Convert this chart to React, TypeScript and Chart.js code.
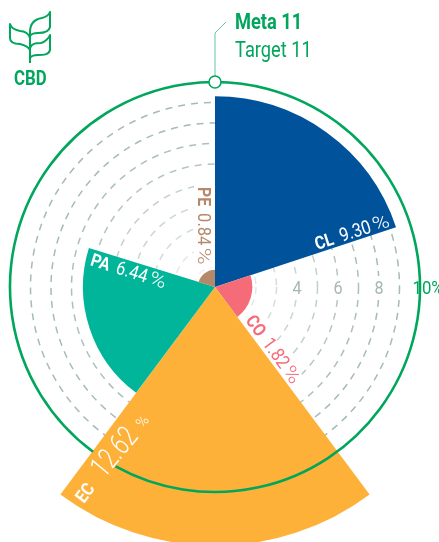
import React, { useEffect, useRef } from "react";
import { Chart, registerables } from "chart.js";

Chart.register(...registerables);

const categories = ["CL", "CO", "EC", "PA", "PE"];
const values = [9.3, 1.82, 12.62, 6.44, 0.84];
const colors = ["#00529B", "#F56C78", "#FDB139", "#00B59A", "#B5886A"];
const sectorAngles = [71.7, 71.6, 73.4, 70.5, 72.8];
const ringTicks = [4, 6, 8];
const targetValue = 10;
const titleLines = ["Meta 11", "Target 11"];
const logoText = "CBD";

const GREEN = "#00A65C";
const FONT = "Roboto, sans-serif";

function pct(v: number) {
  return v.toFixed(2);
}

const ringColors: Record<number, string> = {
  1: "#EDF2F1", 2: "#E0E8E7", 3: "#D3DEDC", 4: "#C8D6D4", 5: "#C0D0CD",
  6: "#B4C6C3", 7: "#ABC0BD", 8: "#A5BBB8", 9: "#A5BBB8", 10: "rgba(0,0,0,0)",
};

type Part = { text: string; font: string; gap?: number; sx?: number };

function drawParts(ctx: CanvasRenderingContext2D, x: number, y: number, angle: number, parts: Part[], color: string) {
  ctx.save();
  ctx.translate(x, y);
  ctx.rotate(angle);
  ctx.fillStyle = color;
  ctx.textBaseline = "alphabetic";
  ctx.textAlign = "left";
  let cx = 0;
  for (const p of parts) {
    const sx = p.sx ?? 0.82;
    ctx.font = p.font;
    ctx.save();
    ctx.translate(cx, 0);
    ctx.scale(sx, 1);
    ctx.fillText(p.text, 0, 0);
    ctx.restore();
    cx += ctx.measureText(p.text).width * sx + (p.gap ?? 0);
  }
  ctx.restore();
}

const labelParts = (i: number): Part[] => [
  { text: categories[i], font: `bold 18px ${FONT}`, gap: 7, sx: 0.88 },
  { text: pct(values[i]), font: `19px ${FONT}`, gap: 2.5, sx: 0.87 },
  { text: "%", font: `300 19px ${FONT}`, sx: 1.2 },
];

const underlay = {
  id: "underlay",
  beforeDatasetsDraw(chart: any) {
    const { ctx } = chart;
    const r = chart.scales.r;
    ctx.save();
    ctx.fillStyle = "#fff";
    ringTicks.forEach((t) => {
      const x = r.xCenter + r.getDistanceFromCenterForValue(t);
      ctx.fillRect(x - 7, r.yCenter - 11, 14, 22);
    });
    // clear the rings behind the PE and CO labels
    ctx.fillRect(r.xCenter - 21, 183, 21, 84);
    ctx.translate(r.xCenter, r.yCenter);
    ctx.rotate((54 * Math.PI) / 180);
    ctx.fillRect(36, -19, 92, 23);
    ctx.restore();
  },
};

const overlay = {
  id: "overlay",
  afterDatasetsDraw(chart: any) {
    const { ctx } = chart;
    const r = chart.scales.r;
    const cx = r.xCenter;
    const cy = r.yCenter;
    const R = r.getDistanceFromCenterForValue(targetValue);
    const rad = (d: number) => (d * Math.PI) / 180;

    // target ring with gap behind the EC label
    ctx.save();
    ctx.strokeStyle = GREEN;
    ctx.lineWidth = 2.6;
    ctx.beginPath();
    ctx.arc(cx, cy, R, rad(126.5), rad(360 + 119));
    ctx.stroke();
    // leader
    ctx.lineWidth = 0.8;
    ctx.strokeStyle = "#3DB885";
    ctx.beginPath();
    ctx.moveTo(cx, cy - R);
    ctx.lineTo(cx, 33);
    ctx.lineTo(226, 22);
    ctx.stroke();
    // marker
    ctx.fillStyle = "#fff";
    ctx.strokeStyle = GREEN;
    ctx.lineWidth = 1.6;
    ctx.beginPath();
    ctx.arc(cx, cy - R, 6, 0, Math.PI * 2);
    ctx.fill();
    ctx.stroke();
    ctx.restore();

    // title and logo caption
    drawParts(ctx, 235, 29, 0, [{ text: titleLines[0], font: `bold 22px ${FONT}`, sx: 0.83 }], GREEN);
    drawParts(ctx, 235, 57, 0, [{ text: titleLines[1], font: `22px ${FONT}`, sx: 0.83 }], GREEN);
    drawParts(ctx, 14, 85, 0, [{ text: logoText, font: `bold 21px ${FONT}`, sx: 0.8 }], GREEN);

    // logo
    ctx.save();
    ctx.strokeStyle = GREEN;
    ctx.lineWidth = 2;
    ctx.lineJoin = "round";
    ctx.stroke(new Path2D("M30 63 L30 32 C30 22 36 19 42 18 C46 17 49 15 50 12 L50 27 C49 32 44 33 38 33 C34 33 31 34 30 36"));
    ctx.stroke(new Path2D("M30 63 L30 48 C32 43 36 43 41 43 C45 42 49 38 50 35 L50 50 C49 55 43 55 38 55 C34 55 31 56 30 58"));
    ctx.stroke(new Path2D("M30 50 C28 46 24 45 20 44 C14 44 10 43 10 38 L10 24 C11 28 15 30 20 31 C25 31 29 34 30 38"));
    ctx.restore();

    // tick labels
    ringTicks.forEach((t) => {
      drawParts(ctx, cx + r.getDistanceFromCenterForValue(t) - 4.5, cy + 7, 0, [{ text: String(t), font: `19px ${FONT}`, sx: 0.85 }], "#A5B8B5");
    });
    drawParts(ctx, 412.5, cy + 7, 0, [{ text: `${targetValue}%`, font: `19px ${FONT}`, sx: 0.88 }], GREEN);

    drawParts(ctx, 317, 250, rad(-18), labelParts(0), "#fff");
    drawParts(ctx, 245, 320.5, rad(54), labelParts(1), colors[1]);
    drawParts(ctx, 84, 504, rad(-53), [{ text: categories[2], font: `bold 18px ${FONT}`, sx: 0.88 }], "#fff");
    drawParts(ctx, 104, 479, rad(-50), [{ text: pct(values[2]), font: `300 30px ${FONT}`, sx: 0.74 }], "#fff");
    drawParts(ctx, 143, 429, rad(-53), [{ text: "%", font: `300 15px ${FONT}`, sx: 1 }], "#fff");
    drawParts(ctx, 89.5, 265, rad(17.5), labelParts(3), "#fff");
    drawParts(ctx, 198, 187, rad(90), labelParts(4), colors[4]);
  },
};

export default function App() {
  const ref = useRef<HTMLCanvasElement>(null);
  useEffect(() => {
    document.body.style.margin = "0";
    const chart = new Chart(ref.current!, {
      type: "polarArea",
      data: {
        labels: categories,
        datasets: [{ data: values, backgroundColor: colors, borderWidth: 0, clip: false } as any],
      },
      options: {
        responsive: false,
        animation: false,
        elements: { arc: { angle: (c: any) => sectorAngles[c.dataIndex] } },
        layout: { padding: { left: 10, right: 19, top: 82, bottom: 50 } },
        plugins: { legend: { display: false }, tooltip: { enabled: false } },
        scales: {
          r: {
            min: 0,
            max: targetValue,
            ticks: { stepSize: 1, display: false, showLabelBackdrop: false },
            grid: {
              lineWidth: 1.5,
              color: (c: any) => ringColors[c.tick?.value] ?? "transparent",
            },
            border: { dash: [7, 6] },
            angleLines: { display: false },
            pointLabels: { display: false },
          },
        },
      },
      plugins: [underlay, overlay],
    } as any);
    return () => chart.destroy();
  }, []);
  return <canvas ref={ref} width={439} height={542} style={{ display: "block" }} />;
}
